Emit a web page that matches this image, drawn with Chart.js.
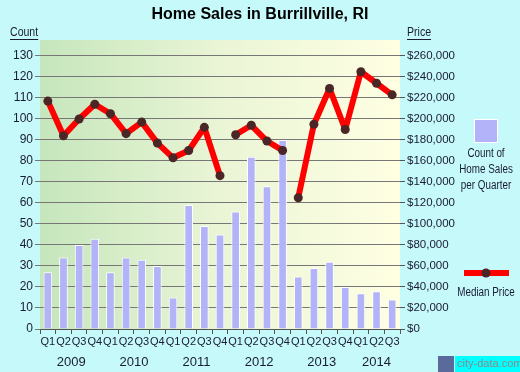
<!DOCTYPE html>
<html lang="en">
<head>
<meta charset="UTF-8">
<title>Home Sales in Burrillville, RI</title>
<script src="https://cdn.jsdelivr.net/npm/chart.js"></script>
<style>
  html, body { margin: 0; padding: 0; background: #c6fafa; }
  #wrap { width: 520px; height: 372px; position: relative; }
</style>
</head>
<body>
<div id="wrap"><canvas id="salesChart" width="520" height="372"></canvas></div>
<script>
// data
const quarters = ['Q1','Q2','Q3','Q4','Q1','Q2','Q3','Q4','Q1','Q2','Q3','Q4',
                  'Q1','Q2','Q3','Q4','Q1','Q2','Q3','Q4','Q1','Q2','Q3'];
const years = ['2009','2010','2011','2012','2013','2014'];
const salesCount = [27,34,40,43, 27,34,33,30, 15,59,49,45, 56,82,68,90, 25,29,32,20, 17,18,14];
const medianPrice = [217000,184000,200000,214000, 205000,186000,197000,177000,
                     163000,170000,192000,146000, 185000,194000,179000,170000,
                     125000,195000,229000,190000, 245000,234000,223000];
// line is not drawn between these points and the next one
const lineGapsAfter = [11, 15];
const countTicks = [0,10,20,30,40,50,60,70,80,90,100,110,120,130];
const priceTicks = [0,20000,40000,60000,80000,100000,120000,140000,160000,180000,200000,220000,240000,260000];

const FONT = "'Liberation Sans', Arial, sans-serif";
const TXT = '#1a1a33';

// narrow text like the original's squeezed font
function squeezed(c, text, x, y, sx) {
    c.save();
    c.translate(x, y);
    c.scale(sx, 1);
    c.fillText(text, 0, 0);
    c.restore();
}

const decor = {
    id: 'decor',
    beforeDraw(chart) {
        const { ctx, chartArea: a } = chart;
        ctx.save();
        ctx.fillStyle = '#c6fafa';
        ctx.fillRect(0, 0, chart.width, chart.height);
        const g = ctx.createLinearGradient(a.left, 0, a.right, 0);
        g.addColorStop(0, 'rgb(198,230,188)');
        g.addColorStop(0.5, 'rgb(234,245,214)');
        g.addColorStop(1, 'rgb(255,255,226)');
        ctx.fillStyle = g;
        ctx.fillRect(a.left, a.top, a.right - a.left, a.bottom - a.top);
        ctx.restore();
    },
    afterDraw(chart) {
        const { ctx } = chart;
        const x = chart.scales.x;
        ctx.save();
        // title
        ctx.fillStyle = '#000';
        ctx.textAlign = 'center';
        ctx.textBaseline = 'middle';
        ctx.font = "bold 16px 'Liberation Sans', Arial, sans-serif";
        ctx.fillText('Home Sales in Burrillville, RI', 260, 15);

        // axis captions
        ctx.font = '12px ' + FONT;
        ctx.fillStyle = TXT;
        ctx.textAlign = 'left';
        squeezed(ctx, 'Count', 10, 33, 0.88);
        squeezed(ctx, 'Price', 407, 33, 0.88);
        ctx.strokeStyle = TXT;
        ctx.lineWidth = 1;
        ctx.beginPath();
        ctx.moveTo(10, 39.5); ctx.lineTo(10 + 0.88 * ctx.measureText('Count').width, 39.5);
        ctx.moveTo(407, 39.5); ctx.lineTo(407 + 0.88 * ctx.measureText('Price').width, 39.5);
        ctx.stroke();

        // year labels under each group of quarters
        ctx.font = '13px ' + FONT;
        ctx.textAlign = 'center';
        years.forEach((y, i) => {
            const first = i * 4;
            const last = Math.min(first + 3, quarters.length - 1);
            const cx = (x.getPixelForValue(first) + x.getPixelForValue(last)) / 2;
            ctx.fillText(y, cx, 362);
        });

        // legend
        ctx.fillStyle = '#b3b3fa';
        ctx.strokeStyle = '#fff';
        ctx.lineWidth = 1;
        ctx.fillRect(474, 119, 24, 24);
        ctx.strokeRect(474.5, 119.5, 23, 23);
        ctx.fillStyle = TXT;
        ctx.font = '12px ' + FONT;
        squeezed(ctx, 'Count of', 486, 154, 0.82);
        squeezed(ctx, 'Home Sales', 486, 170, 0.82);
        squeezed(ctx, 'per Quarter', 486, 186, 0.82);

        ctx.strokeStyle = '#ff0000';
        ctx.lineWidth = 6;
        ctx.beginPath();
        ctx.moveTo(464, 273); ctx.lineTo(509, 273);
        ctx.stroke();
        ctx.fillStyle = '#4a2626';
        ctx.beginPath();
        ctx.arc(486, 273, 4.5, 0, Math.PI * 2);
        ctx.fill();
        ctx.fillStyle = TXT;
        squeezed(ctx, 'Median Price', 486, 293, 0.82);

        // watermark
        ctx.fillStyle = '#00ffff';
        ctx.fillRect(455, 356, 65, 16);
        ctx.fillStyle = '#5a6a9a';
        ctx.fillRect(438, 356, 16, 16);
        ctx.fillStyle = '#8a8a8a';
        ctx.font = '11px ' + FONT;
        ctx.textAlign = 'left';
        ctx.fillText('city-data.com', 457, 364);
        ctx.restore();
    }
};

const ctx = document.getElementById('salesChart').getContext('2d');
new Chart(ctx, {
    type: 'bar',
    data: {
        labels: quarters,
        datasets: [
            {
                type: 'line',
                label: 'Median Price',
                data: medianPrice,
                yAxisID: 'y1',
                borderColor: '#ff0000',
                borderWidth: 6,
                borderJoinStyle: 'round',
                pointRadius: 4.5,
                pointBorderWidth: 0,
                pointBackgroundColor: '#4a2626',
                tension: 0,
                segment: {
                    borderColor: c => lineGapsAfter.includes(c.p0DataIndex) ? 'rgba(0,0,0,0)' : '#ff0000'
                },
                order: 0
            },
            {
                label: 'Count of Home Sales per Quarter',
                data: salesCount,
                yAxisID: 'y',
                backgroundColor: '#b3b3fa',
                borderColor: '#ffffff',
                borderWidth: 1,
                barPercentage: 0.55,
                categoryPercentage: 1,
                order: 1
            }
        ]
    },
    options: {
        responsive: false,
        animation: false,
        layout: { padding: { top: 40, left: 0, right: 0, bottom: 0 } },
        plugins: {
            legend: { display: false },
            title: { display: false },
            tooltip: { enabled: false }
        },
        scales: {
            x: {
                offset: true,
                grid: { drawOnChartArea: false, tickLength: 5, color: '#555', offset: true },
                border: { display: true, color: '#555' },
                ticks: { autoSkip: false, maxRotation: 0, padding: 1, color: TXT, font: { size: 11, family: FONT } },
                afterFit: s => { s.height = 43; }
            },
            y: {
                position: 'left',
                min: 0,
                max: 137.6,
                afterBuildTicks: s => { s.ticks = countTicks.map(v => ({ value: v })); },
                grid: { color: '#777', tickLength: 5 },
                border: { display: false },
                ticks: { color: TXT, padding: 2, font: { size: 12, family: FONT } },
                afterFit: s => { s.width = 40; }
            },
            y1: {
                position: 'right',
                min: 0,
                max: 275200,
                afterBuildTicks: s => { s.ticks = priceTicks.map(v => ({ value: v })); },
                grid: { drawOnChartArea: false, color: '#555', tickLength: 5 },
                border: { display: false },
                ticks: {
                    color: TXT, padding: 2, font: { size: 11.5, family: FONT },
                    callback: v => '$' + v.toLocaleString('en-US')
                },
                afterFit: s => { s.width = 120; }
            }
        }
    },
    plugins: [decor]
});
</script>
</body>
</html>
